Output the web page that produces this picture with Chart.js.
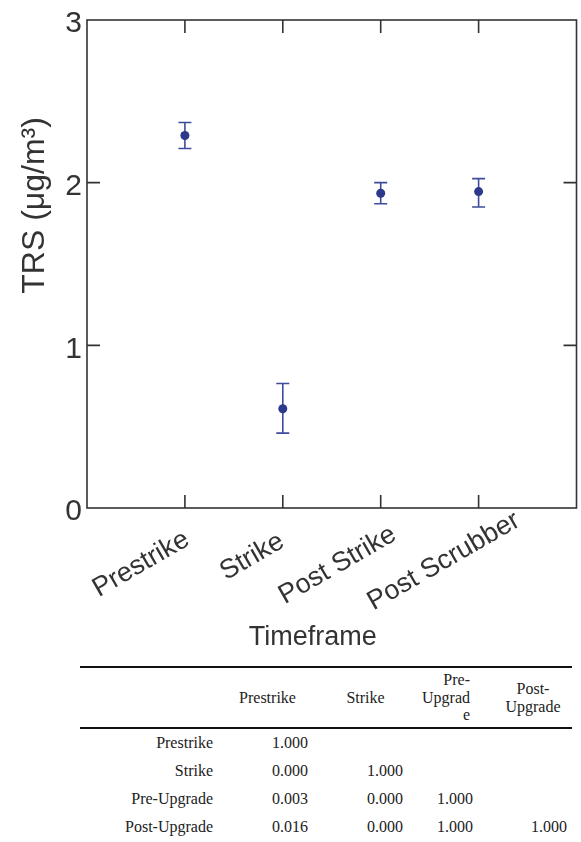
<!DOCTYPE html>
<html>
<head>
<meta charset="utf-8">
<script src="https://cdn.jsdelivr.net/npm/chart.js@4"></script>
<style>
  html, body { margin: 0; padding: 0; background: #fff; }
  #wrap { position: relative; width: 581px; height: 842px; overflow: hidden; }
  #c { position: absolute; left: 0; top: 0; }
  #tbl { position: absolute; left: 80px; top: 666px; width: 492px; border-collapse: collapse;
         font-family: "Liberation Serif", "Times New Roman", serif; font-size: 16px; color: #222; }
  #tbl th { font-weight: normal; vertical-align: middle; line-height: 17.5px; padding: 0; height: 59px; }
  #tbl thead tr { border-top: 2px solid #111; border-bottom: 2px solid #111; }
  #tbl td { text-align: right; height: 28px; padding: 0 7px 0 0; vertical-align: middle; }
</style>
</head>
<body>
<div id="wrap">
  <canvas id="c" width="581" height="660"></canvas>
  <table id="tbl">
    <colgroup>
      <col style="width:140px"><col style="width:95px"><col style="width:95px"><col style="width:70px"><col style="width:92px">
    </colgroup>
    <thead id="thead"></thead>
    <tbody id="tbody"></tbody>
  </table>
</div>
<script>
// ---- chart data ----
const categories = ['Prestrike', 'Strike', 'Post Strike', 'Post Scrubber'];
const means = [2.29, 0.61, 1.935, 1.945];
const lower = [2.21, 0.46, 1.87, 1.85];
const upper = [2.37, 0.765, 2.0, 2.025];
const yTicks = [0, 1, 2, 3];
const yTitle = 'TRS (\u03BCg/m\u00B3)';
const xTitle = 'Timeframe';

// ---- table data ----
const tableCols = ['Prestrike', 'Strike', 'Pre-Upgrade', 'Post-Upgrade'];
const tableHeaderLines = [['Prestrike'], ['Strike'], ['Pre-', 'Upgrad', 'e'], ['Post-', 'Upgrade']];
const tableRows = ['Prestrike', 'Strike', 'Pre-Upgrade', 'Post-Upgrade'];
const tableValues = [
  ['1.000', '', '', ''],
  ['0.000', '1.000', '', ''],
  ['0.003', '0.000', '1.000', ''],
  ['0.016', '0.000', '1.000', '1.000']
];

// build table
const thead = document.getElementById('thead');
const hr = document.createElement('tr');
hr.appendChild(document.createElement('th'));
tableHeaderLines.forEach((lines, i) => {
  const th = document.createElement('th');
  th.innerHTML = lines.join('<br>');
  th.title = tableCols[i];
  if (i === 0) { th.style.textAlign = 'center'; th.style.paddingLeft = '0px'; }
  if (i === 1) { th.style.textAlign = 'center'; th.style.paddingLeft = '6px'; }
  if (i === 2) { th.style.textAlign = 'right'; th.style.paddingRight = '10px'; }
  if (i === 3) { th.style.textAlign = 'center'; th.style.paddingLeft = '14px'; }
  hr.appendChild(th);
});
thead.appendChild(hr);
const tbody = document.getElementById('tbody');
tableRows.forEach((r, ri) => {
  const tr = document.createElement('tr');
  const td0 = document.createElement('td');
  td0.textContent = r;
  tr.appendChild(td0);
  tableValues[ri].forEach((v, ci) => {
    const td = document.createElement('td');
    td.textContent = v;
    if (ci === 3) td.style.paddingRight = '5px';
    tr.appendChild(td);
  });
  tbody.appendChild(tr);
});

// ---- chart styling ----
const AXIS = '#333';
const BLUE = '#2d3a8c';
const TICK = 13;
const LABEL_ROT = -30 * Math.PI / 180;
// per-label anchor shift (px) of the rotated category labels, relative to tick / axis line
const labelShift = [[6, 36], [3, 38], [17, 31], [43, 17]];

const framePlugin = {
  id: 'frame',
  beforeDatasetsDraw(chart) {
    const ctx = chart.ctx, x = chart.scales.x, y = chart.scales.y;
    ctx.save();
    ctx.strokeStyle = '#3f4c9c';
    ctx.lineWidth = 1.6;
    categories.forEach((c, i) => {
      const px = x.getPixelForValue(i + 1);
      const pl = y.getPixelForValue(lower[i]);
      const pu = y.getPixelForValue(upper[i]);
      ctx.beginPath();
      ctx.moveTo(px, pl); ctx.lineTo(px, pu);
      ctx.moveTo(px - 6.5, pl); ctx.lineTo(px + 6.5, pl);
      ctx.moveTo(px - 6.5, pu); ctx.lineTo(px + 6.5, pu);
      ctx.stroke();
    });
    ctx.restore();
  },
  afterDraw(chart) {
    const ctx = chart.ctx, x = chart.scales.x, y = chart.scales.y, a = chart.chartArea;
    ctx.save();
    ctx.strokeStyle = AXIS;
    ctx.lineWidth = 1.6;
    ctx.strokeRect(a.left, a.top, a.right - a.left, a.bottom - a.top);
    ctx.beginPath();
    categories.forEach((c, i) => {
      const px = x.getPixelForValue(i + 1);
      ctx.moveTo(px, a.bottom); ctx.lineTo(px, a.bottom - TICK);
      ctx.moveTo(px, a.top); ctx.lineTo(px, a.top + TICK);
    });
    yTicks.forEach(v => {
      if (v === yTicks[0] || v === yTicks[yTicks.length - 1]) return;
      const py = y.getPixelForValue(v);
      ctx.moveTo(a.left, py); ctx.lineTo(a.left + TICK, py);
      ctx.moveTo(a.right, py); ctx.lineTo(a.right - TICK, py);
    });
    ctx.stroke();

    ctx.fillStyle = AXIS;
    // rotated category labels
    ctx.font = '27px "Liberation Sans", Arial, sans-serif';
    ctx.textAlign = 'right';
    ctx.textBaseline = 'alphabetic';
    categories.forEach((c, i) => {
      const px = x.getPixelForValue(i + 1);
      ctx.save();
      ctx.translate(px + labelShift[i][0], a.bottom + labelShift[i][1]);
      ctx.rotate(LABEL_ROT);
      ctx.fillText(c, 0, 0);
      ctx.restore();
    });

    // axis titles
    ctx.textAlign = 'center';
    ctx.font = '32px "Liberation Sans", Arial, sans-serif';
    ctx.save();
    ctx.translate(44, a.top + (a.bottom - a.top) * 0.38);
    ctx.rotate(-Math.PI / 2);
    ctx.fillText(yTitle, 0, 0);
    ctx.restore();
    ctx.font = '27px "Liberation Sans", Arial, sans-serif';
    ctx.fillText(xTitle, (a.left + a.right) / 2 - 19, 645);
    ctx.restore();
  }
};

new Chart(document.getElementById('c'), {
  type: 'scatter',
  data: {
    datasets: [{
      data: categories.map((c, i) => ({ x: i + 1, y: means[i] })),
      pointRadius: 4.5,
      pointHoverRadius: 4.5,
      backgroundColor: BLUE,
      borderColor: BLUE,
      borderWidth: 0
    }]
  },
  options: {
    responsive: false,
    animation: false,
    events: [],
    layout: { padding: { top: 16, right: 4, left: 0, bottom: 0 } },
    plugins: { legend: { display: false }, tooltip: { enabled: false } },
    scales: {
      x: {
        type: 'linear', min: 0, max: categories.length + 1,
        grid: { display: false, drawTicks: false },
        border: { display: false },
        afterFit(s) { s.height = 152; },
        afterBuildTicks(s) { s.ticks = categories.map((c, i) => ({ value: i + 1 })); },
        ticks: { display: false }
      },
      y: {
        min: yTicks[0], max: yTicks[yTicks.length - 1],
        grid: { display: false, drawTicks: false },
        border: { display: false },
        afterFit(s) { s.width = 87; },
        afterBuildTicks(s) { s.ticks = yTicks.map(v => ({ value: v })); },
        ticks: {
          padding: 5, labelOffset: 4, color: AXIS,
          font: { family: '"Liberation Sans", Arial, sans-serif', size: 30, lineHeight: 1 }
        }
      }
    }
  },
  plugins: [framePlugin]
});
</script>
</body>
</html>
